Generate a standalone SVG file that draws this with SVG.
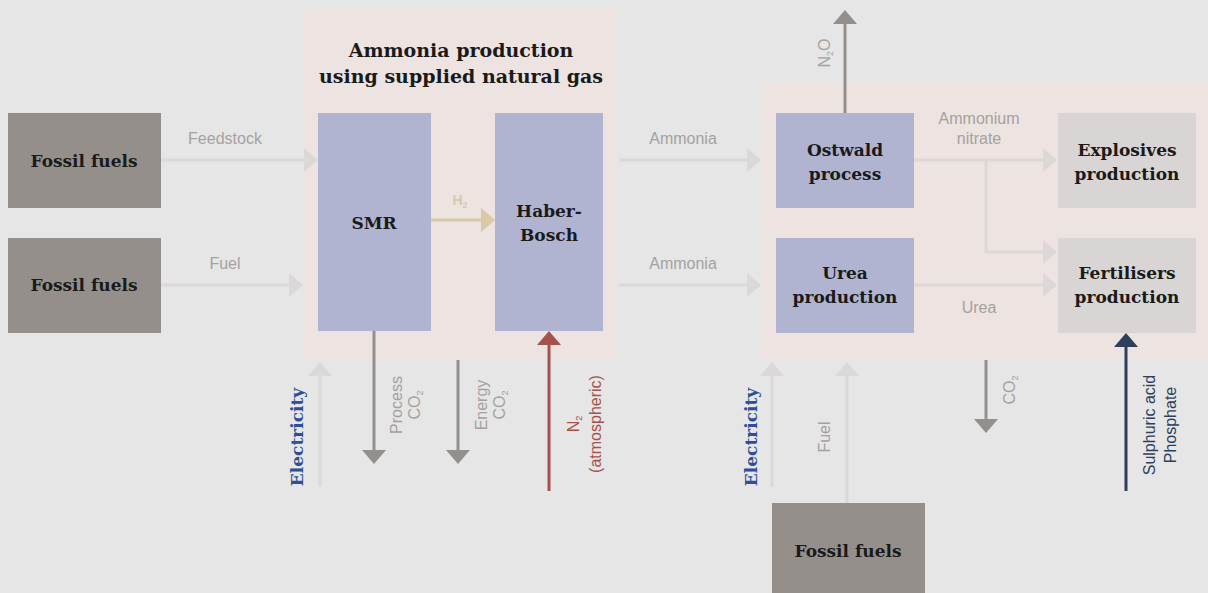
<svg xmlns="http://www.w3.org/2000/svg" width="1208" height="593" viewBox="0 0 1208 593">
<defs>
<style>
.bg{fill:#e5e6e5}
.panel{fill:#ede3e1}
.fossil{fill:#958f8b}
.proc{fill:#b0b4d0}
.out{fill:#d8d5d4}
.node{font-family:"DejaVu Serif","Liberation Serif",serif;font-weight:bold;font-size:17px;fill:#1a1a1a;text-anchor:middle}
.title{font-family:"DejaVu Serif","Liberation Serif",serif;font-weight:bold;font-size:19px;fill:#1a1a1a;text-anchor:middle}
.lbl{font-family:"Liberation Sans",Arial,sans-serif;font-size:16px;fill:#a5a1a0;text-anchor:middle}
.sub{font-size:9px}
.lt{stroke:#dcd8d7;stroke-width:3;fill:none}
.dk{stroke:#958f8b;stroke-width:3;fill:none}
.h2{stroke:#d9c9a6;stroke-width:3;fill:none}
.n2{stroke:#a5524d;stroke-width:3;fill:none}
.nv{stroke:#2e3f5e;stroke-width:3;fill:none}
.elec{font-family:"DejaVu Serif","Liberation Serif",serif;font-weight:bold;font-size:17px;fill:#2d4f95;text-anchor:middle}
</style>
</defs>
<rect class="bg" x="0" y="0" width="1208" height="593"/>
<rect class="panel" x="303" y="10" width="315" height="350"/>
<rect class="panel" x="762" y="84" width="446" height="276"/>

<g id="connectors">
<line class="lt" x1="161" y1="160" x2="305" y2="160"/><polygon points="304,148 318,160 304,172" fill="#dcd8d7"/>
<line class="lt" x1="161" y1="285" x2="290" y2="285"/><polygon points="289,273 303,285 289,297" fill="#dcd8d7"/>
<line class="lt" x1="619" y1="160" x2="748" y2="160"/><polygon points="747,148 761,160 747,172" fill="#dcd8d7"/>
<line class="lt" x1="619" y1="285" x2="748" y2="285"/><polygon points="747,273 761,285 747,297" fill="#dcd8d7"/>
<line class="lt" x1="914" y1="160" x2="1044" y2="160"/><polygon points="1043,148 1057,160 1043,172" fill="#dcd8d7"/>
<polyline class="lt" points="986,160 986,252 1044,252"/><polygon points="1043,240 1057,252 1043,264" fill="#dcd8d7"/>
<line class="lt" x1="914" y1="285" x2="1044" y2="285"/><polygon points="1043,273 1057,285 1043,297" fill="#dcd8d7"/>
<line class="h2" x1="431" y1="220" x2="482" y2="220"/><polygon points="481,208 495,220 481,232" fill="#d9c9a6"/>
<line class="dk" x1="845" y1="113" x2="845" y2="23"/><polygon points="833,24 845,10 857,24" fill="#958f8b"/>
<line class="dk" x1="374" y1="331" x2="374" y2="451"/><polygon points="362,450 374,464 386,450" fill="#958f8b"/>
<line class="dk" x1="458" y1="360" x2="458" y2="451"/><polygon points="446,450 458,464 470,450" fill="#958f8b"/>
<line class="dk" x1="986" y1="360" x2="986" y2="420"/><polygon points="974,419 986,433 998,419" fill="#958f8b"/>
<line class="n2" x1="549" y1="491" x2="549" y2="344"/><polygon points="537,345 549,331 561,345" fill="#a5524d"/>
<line class="nv" x1="1126" y1="491" x2="1126" y2="346"/><polygon points="1114,347 1126,333 1138,347" fill="#2e3f5e"/>
<line class="lt" x1="320" y1="487" x2="320" y2="375"/><polygon points="308,376 320,362 332,376" fill="#dcd8d7"/>
<line class="lt" x1="772" y1="487" x2="772" y2="375"/><polygon points="760,376 772,362 784,376" fill="#dcd8d7"/>
<line class="lt" x1="847" y1="503" x2="847" y2="375"/><polygon points="835,376 847,362 859,376" fill="#dcd8d7"/>
</g>

<g id="labels">
<text class="lbl" x="225" y="144">Feedstock</text>
<text class="lbl" x="225" y="269">Fuel</text>
<text class="lbl" x="683" y="144">Ammonia</text>
<text class="lbl" x="683" y="269">Ammonia</text>
<text class="lbl" x="979" y="124">Ammonium</text>
<text class="lbl" x="979" y="144">nitrate</text>
<text class="lbl" x="979" y="313">Urea</text>
<text class="lbl" x="460" y="205" style="fill:#d9c9a6;font-weight:bold;font-size:14px">H<tspan class="sub" dy="3">2</tspan></text>
<text class="lbl" transform="translate(830,53) rotate(-90)">N<tspan class="sub" dy="3">2</tspan><tspan dy="-3">O</tspan></text>
<text class="lbl" transform="translate(402,405) rotate(-90)">Process</text>
<text class="lbl" transform="translate(420,405) rotate(-90)">CO<tspan class="sub" dy="3">2</tspan></text>
<text class="lbl" transform="translate(487,405) rotate(-90)">Energy</text>
<text class="lbl" transform="translate(505,405) rotate(-90)">CO<tspan class="sub" dy="3">2</tspan></text>
<text class="lbl" style="fill:#a5524d" transform="translate(579,424) rotate(-90)">N<tspan class="sub" dy="3">2</tspan></text>
<text class="lbl" style="fill:#a5524d" transform="translate(601,424) rotate(-90)">(atmospheric)</text>
<text class="lbl" transform="translate(1015,390) rotate(-90)">CO<tspan class="sub" dy="3">2</tspan></text>
<text class="lbl" transform="translate(830,437) rotate(-90)">Fuel</text>
<text class="lbl" style="fill:#2e3f5e" transform="translate(1155,425) rotate(-90)">Sulphuric acid</text>
<text class="lbl" style="fill:#2e3f5e" transform="translate(1176,425) rotate(-90)">Phosphate</text>
<text class="elec" transform="translate(303,437) rotate(-90)">Electricity</text>
<text class="elec" transform="translate(757,437) rotate(-90)">Electricity</text>
</g>

<g id="title">
<text class="title" x="461" y="57">Ammonia production</text>
<text class="title" x="461" y="83">using supplied natural gas</text>
</g>

<g id="fossil1"><rect class="fossil" x="8" y="113" width="153" height="95"/><text class="node" x="84" y="167">Fossil fuels</text></g>
<g id="fossil2"><rect class="fossil" x="8" y="238" width="153" height="95"/><text class="node" x="84" y="291">Fossil fuels</text></g>
<g id="fossil3"><rect class="fossil" x="772" y="503" width="153" height="90"/><text class="node" x="848" y="557">Fossil fuels</text></g>
<g id="smr"><rect class="proc" x="318" y="113" width="113" height="218"/><text class="node" x="374" y="229">SMR</text></g>
<g id="haber"><rect class="proc" x="495" y="113" width="108" height="218"/><text class="node" x="549" y="217">Haber-</text><text class="node" x="549" y="241">Bosch</text></g>
<g id="ostwald"><rect class="proc" x="776" y="113" width="138" height="95"/><text class="node" x="845" y="156">Ostwald</text><text class="node" x="845" y="180">process</text></g>
<g id="urea"><rect class="proc" x="776" y="238" width="138" height="95"/><text class="node" x="845" y="279">Urea</text><text class="node" x="845" y="303">production</text></g>
<g id="explosives"><rect class="out" x="1058" y="113" width="138" height="95"/><text class="node" x="1127" y="156">Explosives</text><text class="node" x="1127" y="180">production</text></g>
<g id="fertilisers"><rect class="out" x="1058" y="238" width="138" height="95"/><text class="node" x="1127" y="279">Fertilisers</text><text class="node" x="1127" y="303">production</text></g>
</svg>
